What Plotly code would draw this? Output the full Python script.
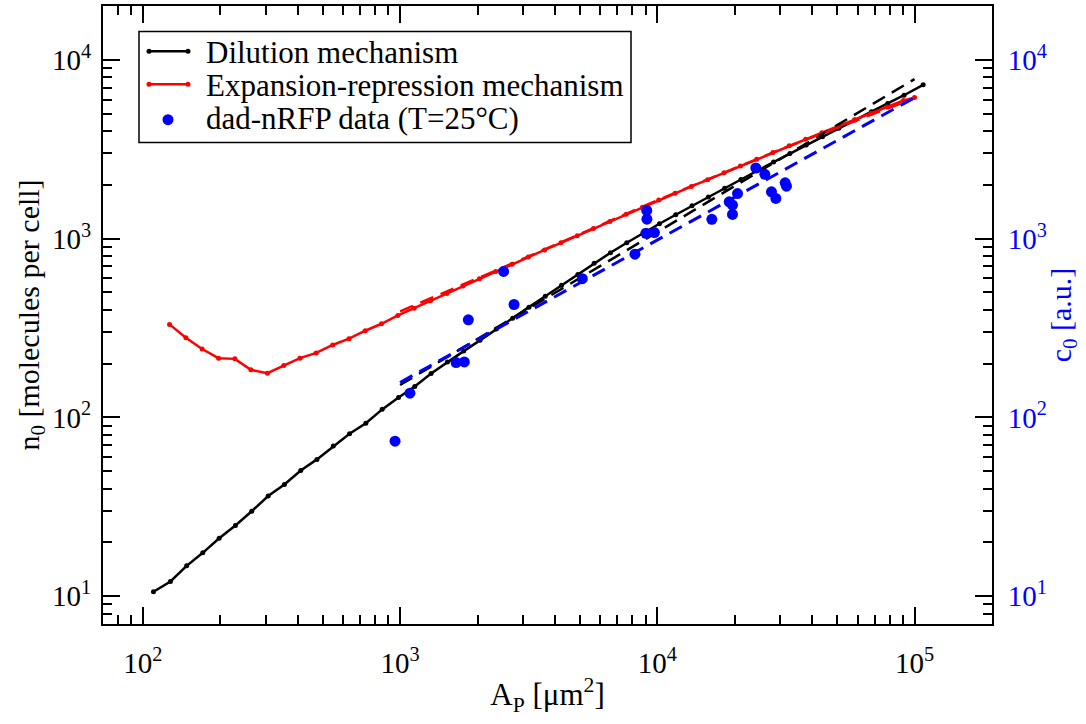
import math
import plotly.graph_objects as go

# ---------------- data ----------------
# Dilution mechanism (black solid line with dots)
dil_area = [110, 128, 148, 171, 198, 229, 265, 307, 355, 411, 475, 550, 636, 736, 852, 986,
            1140, 1320, 1527, 1767, 2045, 2366, 2738, 3169, 3667, 4243, 4910, 5682, 6575,
            7608, 8805, 10190, 11790, 13640, 15790, 18270, 21140, 24460, 28310, 32760,
            37900, 43860, 50760, 58740, 67970, 78650, 91010, 108000]
dil_n0 = [10.6, 12.1, 14.8, 17.5, 21.1, 24.9, 29.9, 36.4, 42.2, 50.5, 58.3, 69.2, 81.1, 92.9,
          111, 129.5, 149, 176, 204, 235, 270, 312, 359, 414, 476, 549, 631, 729, 834, 948,
          1074, 1211, 1361, 1527, 1711, 1916, 2144, 2397, 2679, 2991, 3336, 3720, 4143,
          4613, 5132, 5706, 6339, 7250]

# Expansion-repression mechanism (red solid line with dots)
exp_area = [127, 147, 170, 197, 228, 263, 305, 353, 408, 472, 547, 633, 732, 847, 980, 1134,
            1313, 1519, 1757, 2034, 2353, 2723, 3151, 3646, 4220, 4883, 5650, 6538, 7566,
            8756, 10130, 11730, 13570, 15700, 18170, 21030, 24330, 28150, 32580, 37700,
            43620, 50480, 58420, 67600, 78230, 90530, 100000]
exp_n0 = [331.6, 279.2, 241.6, 214.6, 212.7, 184.6, 177, 195, 214.6, 229.6, 254.4, 275.7,
          305.5, 334.2, 372, 408.3, 449, 494, 543, 597, 656, 719, 789, 865, 948, 1039, 1139,
          1248, 1368, 1500, 1644, 1795, 1959, 2138, 2333, 2547, 2780, 3034, 3311, 3598,
          3910, 4250, 4617, 5018, 5453, 5925, 6150]

# dashed fits
dil_fit_area = [1000, 100000]
dil_fit_n0 = [152, 7800]
exp_fit_area = [1000, 3000, 10000, 30000, 100000]
exp_fit_n0 = [392, 770, 1640, 3150, 6100]
data_fit_area = [1000, 100000]
data_fit_c0 = [157, 6150]

# dad-nRFP data (T=25°C), right axis
data_area = [956, 1092, 1651, 1777, 1842, 2526, 2773, 5109, 8185, 9095, 9110, 9030, 9743,
             16290, 19030, 19600, 19600, 20500, 24150, 26180, 27780, 28890, 31410, 31770]
data_c0 = [73.7, 136.7, 202.8, 204.6, 351.6, 656, 428.3, 597.6, 819, 1439, 1285, 1072, 1081,
           1282, 1608, 1542, 1367, 1788, 2486, 2291, 1828, 1678, 2051, 1966]

x_major = [100, 1000, 10000, 100000]
x_major_text = ["10<sup>2</sup>", "10<sup>3</sup>", "10<sup>4</sup>", "10<sup>5</sup>"]
y_major = [10, 100, 1000, 10000]
y_major_text = ["10<sup>1</sup>", "10<sup>2</sup>", "10<sup>3</sup>", "10<sup>4</sup>"]

legend_labels = ["Dilution mechanism", "Expansion-repression mechanism",
                 "dad-nRFP data (T=25°C)"]

x_range = [70, 2e5]
y_range = [7, 2e4]

# ---------------- figure ----------------
FONT = "Liberation Serif"
BLUE = "#0000ff"
RED = "#ff0000"

x_minor = [m * 10 ** k for k in range(1, 6) for m in range(2, 10)]
y_minor = [m * 10 ** k for k in range(0, 5) for m in range(2, 10)]

fig = go.Figure()

fig.add_trace(go.Scatter(x=dil_area, y=dil_n0, mode="lines+markers", name=legend_labels[0],
                         line=dict(color="black", width=2.5), marker=dict(size=5, color="black")))
fig.add_trace(go.Scatter(x=exp_area, y=exp_n0, mode="lines+markers", name=legend_labels[1],
                         line=dict(color=RED, width=2.5), marker=dict(size=5, color=RED)))
fig.add_trace(go.Scatter(x=dil_fit_area, y=dil_fit_n0, mode="lines",
                         line=dict(color="black", width=2.5, dash="14px,8px")))
fig.add_trace(go.Scatter(x=exp_fit_area, y=exp_fit_n0, mode="lines",
                         line=dict(color=RED, width=2.5, dash="14px,8px")))
fig.add_trace(go.Scatter(x=data_area, y=data_c0, mode="markers", name=legend_labels[2],
                         marker=dict(size=11, color=BLUE), yaxis="y2"))
fig.add_trace(go.Scatter(x=data_fit_area, y=data_fit_c0, mode="lines",
                         line=dict(color=BLUE, width=3, dash="14px,8px"), yaxis="y2"))

axis_common = dict(type="log", showgrid=False, zeroline=False, showline=True,
                   linecolor="black", linewidth=2, ticks="inside", ticklen=17,
                   tickwidth=2, tickcolor="black")

# ---- legend drawn in paper coordinates (plot area: x 103..992 px, y 4..624 px) ----
def px(xp):
    return (xp - 103) / 889.0


def py(yp):
    return (624 - yp) / 620.0


shapes = [dict(type="rect", xref="paper", yref="paper", x0=px(139), x1=px(631),
               y0=py(141), y1=py(29.5), line=dict(color="black", width=1.5),
               fillcolor="white", layer="above")]
annotations = []
row_y = [49.5, 82.5, 116]
row_col = ["black", RED, BLUE]
for i in range(3):
    if i < 2:
        shapes.append(dict(type="line", xref="paper", yref="paper", x0=px(149), x1=px(188),
                           y0=py(row_y[i]), y1=py(row_y[i]),
                           line=dict(color=row_col[i], width=2.5), layer="above"))
        for xe in (149, 188):
            shapes.append(dict(type="circle", xref="paper", yref="paper",
                               xsizemode="pixel", ysizemode="pixel",
                               xanchor=px(xe), yanchor=py(row_y[i]),
                               x0=-2.5, x1=2.5, y0=-2.5, y1=2.5,
                               fillcolor=row_col[i], line=dict(width=0), layer="above"))
    else:
        shapes.append(dict(type="circle", xref="paper", yref="paper",
                           xsizemode="pixel", ysizemode="pixel",
                           xanchor=px(168), yanchor=py(row_y[i] + 2),
                           x0=-5.5, x1=5.5, y0=-5.5, y1=5.5,
                           fillcolor=BLUE, line=dict(width=0), layer="above"))
    annotations.append(dict(text=legend_labels[i], xref="paper", yref="paper",
                            x=px(204), y=py(row_y[i] + 1), xanchor="left", yanchor="middle",
                            showarrow=False, font=dict(family=FONT, size=31, color="black")))

fig.update_layout(
    width=1086, height=724,
    margin=dict(l=103, r=94, t=4, b=100),
    paper_bgcolor="white", plot_bgcolor="white",
    font=dict(family=FONT, size=29, color="black"),
    showlegend=False,
    shapes=shapes,
    annotations=annotations,
    xaxis=dict(**axis_common, range=[math.log10(x_range[0]), math.log10(x_range[1])],
               tickmode="array", tickvals=x_major, ticktext=x_major_text, mirror="ticks",
               minor=dict(tickmode="array", tickvals=x_minor, ticks="inside", ticklen=9,
                          tickwidth=2, tickcolor="black", showgrid=False),
               ticklabelstandoff=12,
               title=dict(text="A<sub>P</sub> [μm<sup>2</sup>]", standoff=6,
                          font=dict(size=31))),
    yaxis=dict(**axis_common, range=[math.log10(y_range[0]), math.log10(y_range[1])],
               tickmode="array", tickvals=y_major, ticktext=y_major_text,
               minor=dict(tickmode="array", tickvals=y_minor, ticks="inside", ticklen=9,
                          tickwidth=2, tickcolor="black", showgrid=False),
               ticklabelstandoff=4,
               title=dict(text="n<sub>0</sub> [molecules per cell]", standoff=4,
                          font=dict(size=30))),
    yaxis2=dict(**axis_common, range=[math.log10(y_range[0]), math.log10(y_range[1])],
                overlaying="y", side="right",
                tickmode="array", tickvals=y_major, ticktext=y_major_text,
                tickfont=dict(color=BLUE, size=29),
                minor=dict(tickmode="array", tickvals=y_minor, ticks="inside", ticklen=9,
                           tickwidth=2, tickcolor="black", showgrid=False),
                ticklabelstandoff=8,
                title=dict(text="c<sub>0</sub> [a.u.]", standoff=4,
                           font=dict(size=30, color=BLUE))),
)

fig.write_html("out.html")
